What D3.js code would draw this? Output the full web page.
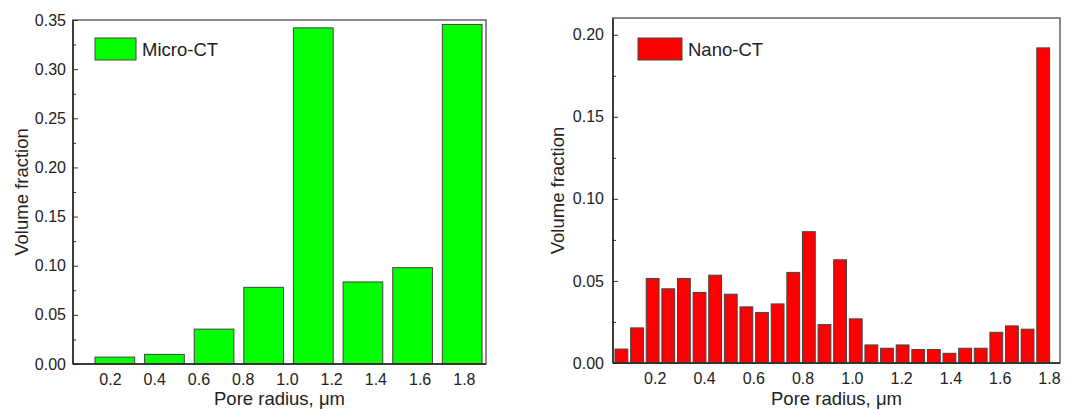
<!DOCTYPE html>
<html lang="en">
  <head>
    <meta charset="UTF-8" />
    <title>Pore radius distribution</title>
    <script src="https://d3js.org/d3.v7.min.js"></script>
    <style>
      body {
        margin: 0;
        background: #fff;
      }
      svg text {
        font-family: "Liberation Sans", Arial, sans-serif;
        fill: #222;
      }
      .bar {
        stroke: #444;
        stroke-width: 1;
      }
    </style>
  </head>
  <body>
    <svg width="1066" height="410"></svg>

    <script>
      // micro-CT bins (8) and nano-CT bins (28)
      var microBins = [1, 2, 3, 4, 5, 6, 7, 8];
      var microValues = [0.007, 0.0098, 0.0355, 0.078, 0.342, 0.0835, 0.098, 0.3455];

      var nanoBins = d3.range(1, 29);
      var nanoValues = [
        0.0085, 0.0214, 0.0515, 0.0452, 0.0515, 0.043, 0.0535, 0.0419,
        0.0342, 0.0308, 0.036, 0.0552, 0.08, 0.0234, 0.0629, 0.0269,
        0.011, 0.009, 0.011, 0.0082, 0.0082, 0.0059, 0.009, 0.009,
        0.0187, 0.0226, 0.0206, 0.192
      ];

      var xTickValues = [0.2, 0.4, 0.6, 0.8, 1.0, 1.2, 1.4, 1.6, 1.8];
      var microYTicks = [0, 0.05, 0.1, 0.15, 0.2, 0.25, 0.3, 0.35];
      var nanoYTicks = [0, 0.05, 0.1, 0.15, 0.2];

      var svg = d3.select("svg");

      function drawPanel(opt) {
        var g = svg.append("g");
        var x = d3.scaleLinear().domain(opt.xDomain).range([opt.left, opt.right]);
        var y = d3.scaleLinear().domain(opt.yDomain).range([opt.bottom, opt.top]);
        var band = d3
          .scaleBand()
          .domain(opt.bins)
          .range(opt.barRange)
          .paddingInner(opt.padIn)
          .paddingOuter(opt.padOut);

        // bars
        g.selectAll(".bar")
          .data(opt.values)
          .enter()
          .append("rect")
          .attr("class", "bar")
          .attr("x", function (d, i) { return band(opt.bins[i]); })
          .attr("width", band.bandwidth())
          .attr("y", function (d) { return y(d); })
          .attr("height", function (d) { return y(0) - y(d); })
          .style("fill", opt.color);

        // frame
        g.append("rect")
          .attr("x", opt.left)
          .attr("y", opt.top)
          .attr("width", opt.right - opt.left)
          .attr("height", opt.bottom - opt.top)
          .attr("fill", "none")
          .attr("stroke", "#666")
          .attr("stroke-width", 1.5);

        // minor y ticks
        var minor = opt.yTicks.map(function (t) { return t + 0.025; })
          .filter(function (t) { return t < opt.yDomain[1]; });
        g.append("g")
          .attr("transform", "translate(" + opt.left + ",0)")
          .call(d3.axisLeft(y).tickValues(minor).tickSize(-3).tickFormat(""))
          .call(function (s) { s.select(".domain").remove(); })
          .selectAll("line").attr("stroke", "#333");

        // major y ticks
        var ya = g.append("g")
          .attr("transform", "translate(" + opt.left + ",0)")
          .call(d3.axisLeft(y).tickValues(opt.yTicks).tickSize(-5).tickPadding(opt.yPad)
            .tickFormat(d3.format(".2f")));
        ya.select(".domain").remove();
        ya.selectAll("line").attr("stroke", "#333");
        ya.selectAll("text").style("font-size", "16px").attr("fill", "#222");

        // x tick labels
        var xa = g.append("g")
          .attr("transform", "translate(0," + opt.bottom + ")")
          .call(d3.axisBottom(x).tickValues(xTickValues).tickSize(0).tickPadding(10)
            .tickFormat(d3.format(".1f")));
        xa.select(".domain").remove();
        xa.selectAll("text").style("font-size", "16px").attr("fill", "#222");

        // left & bottom axis lines
        g.append("line")
          .attr("x1", opt.left).attr("x2", opt.left)
          .attr("y1", opt.top).attr("y2", opt.bottom)
          .attr("stroke", "#222").attr("stroke-width", 1.5);
        g.append("line")
          .attr("x1", opt.left).attr("x2", opt.right)
          .attr("y1", opt.bottom).attr("y2", opt.bottom)
          .attr("stroke", "#222").attr("stroke-width", 1.5);

        // axis titles
        g.append("text")
          .attr("x", (opt.left + opt.right) / 2 - 0)
          .attr("y", 405)
          .attr("text-anchor", "middle")
          .style("font-size", "18.5px")
          .text("Pore radius, \u03bcm");
        g.append("text")
          .attr("transform", "translate(" + opt.yTitleX + "," + (opt.top + opt.bottom) / 2 + ") rotate(-90)")
          .attr("text-anchor", "middle")
          .style("font-size", "18.5px")
          .text("Volume fraction");

        // legend
        g.append("rect")
          .attr("x", opt.legX).attr("y", 38)
          .attr("width", opt.legW).attr("height", 22)
          .attr("fill", opt.color).attr("stroke", "#444");
        g.append("text")
          .attr("x", opt.legX + opt.legW + 6)
          .attr("y", 56)
          .style("font-size", "18.5px")
          .text(opt.label);
      }

      drawPanel({
        bins: microBins,
        values: microValues,
        color: "#00ff00",
        label: "Micro-CT",
        left: 73, right: 486, top: 20, bottom: 364,
        xDomain: [0.033, 1.9],
        yDomain: [0, 0.35],
        yTicks: microYTicks,
        barRange: [90, 487],
        padIn: 0.2, padOut: 0.1,
        yPad: 7,
        yTitleX: 28,
        legX: 95, legW: 41
      });

      drawPanel({
        bins: nanoBins,
        values: nanoValues,
        color: "#ff0000",
        label: "Nano-CT",
        left: 613, right: 1060, top: 18, bottom: 363,
        xDomain: [0.0307, 1.8447],
        yDomain: [0, 0.2102],
        yTicks: nanoYTicks,
        barRange: [613.6, 1051],
        padIn: 0.18, padOut: 0.09,
        yPad: 9,
        yTitleX: 564,
        legX: 638, legW: 44
      });
    </script>
  </body>
</html>
